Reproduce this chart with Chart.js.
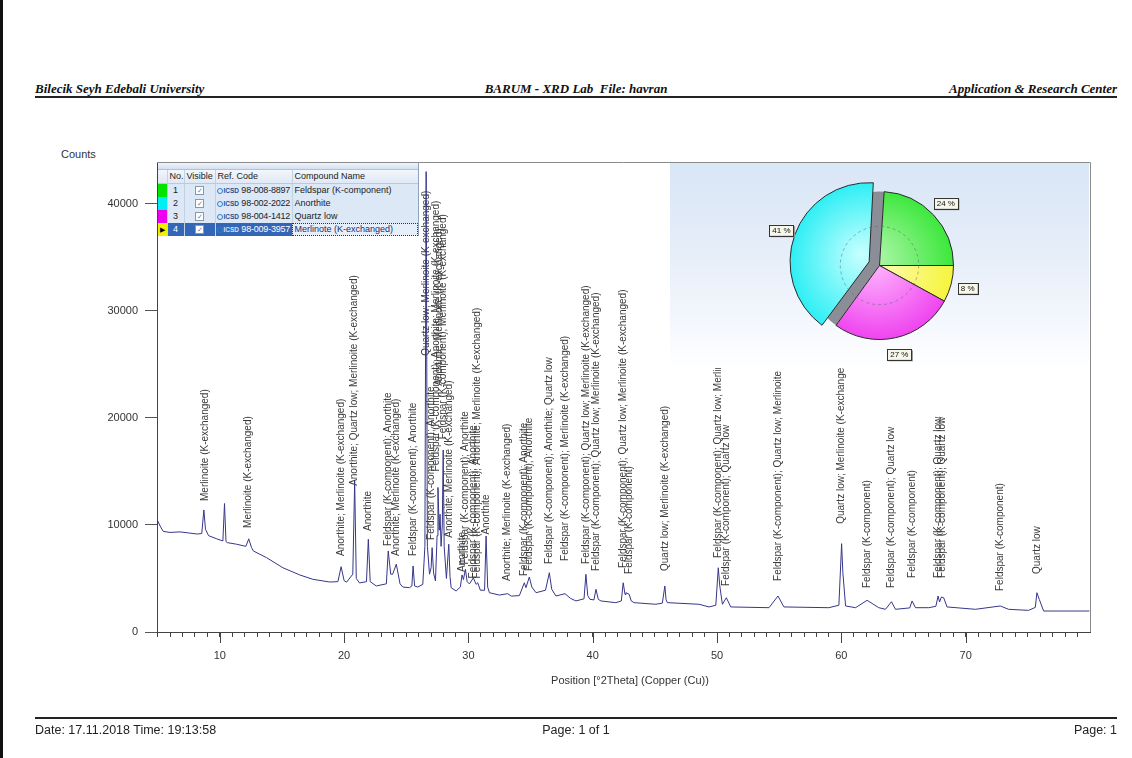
<!DOCTYPE html>
<html>
<head>
<meta charset="utf-8">
<script src="https://cdn.jsdelivr.net/npm/chart.js"></script>
<style>
  body { margin: 0; width: 1132px; height: 758px; position: relative; overflow: hidden; background: #fff;
         font-family: 'Liberation Sans', Arial, sans-serif; color: #333; }
  #edge { position: absolute; left: 0; top: 0; width: 3px; height: 758px; background: #111; }
  #hdr { position: absolute; left: 35px; top: 82px; width: 1082px; height: 14px; border-bottom: 2px solid #222;
         font: italic bold 13px 'Liberation Serif', 'Times New Roman', serif; line-height: 14px; color: #111; }
  #hdr .c { position: absolute; left: 0; width: 1082px; text-align: center; }
  #hdr .r { position: absolute; right: 0; }
  #counts { position: absolute; left: 61px; top: 148px; font-size: 11px; }
  #xtitle { position: absolute; left: 430px; width: 400px; top: 674px; text-align: center; font-size: 11px; }
  #ftr { position: absolute; left: 35px; top: 717px; width: 1082px; border-top: 2px solid #222;
         font-size: 12.5px; line-height: 14px; padding-top: 4px; color: #222; }
  #ftr .c { position: absolute; left: 0; width: 1082px; text-align: center; }
  #ftr .r { position: absolute; right: 0; }
  #xrd { position: absolute; left: 0; top: 0; }
  #tbl { position: absolute; left: 158px; top: 163px; width: 260px; background: #dde8f6;
         font-size: 9px; color: #222; border-right: 1px solid #8fa3bd; }
  #tbl .strip { height: 6px; background: linear-gradient(#f0f4fa, #d3e0f1); border-bottom: 1px solid #b0c2da; }
  #tbl table { border-collapse: collapse; width: 260px; table-layout: fixed; }
  #tbl td { height: 13px; padding: 0 2px; border-left: 1px solid #c3d1e4; white-space: nowrap; overflow: hidden;
            line-height: 13px; }
  #tbl td.rc { padding: 0 0 0 1px; letter-spacing: -0.2px; }
  #tbl tr.h td { background: linear-gradient(#f3f6fb, #dfe8f4); border-bottom: 1px solid #b9c9de; }
  #tbl td.sw { padding: 0; border-left: none; font-size: 7px; text-align: center; }
  #tbl td.n { text-align: center; }
  #tbl td.v { text-align: center; }
  #tbl .cb { display: inline-block; width: 7px; height: 7px; border: 1px solid #8797ad; background: #fff;
             font-size: 7px; line-height: 7px; color: #6d7f99; text-align: center; vertical-align: middle; }
  #tbl .ic { display: inline-block; width: 4px; height: 4px; border: 1px solid #2f7fd0; border-radius: 50%;
             vertical-align: middle; margin-right: 1px; }
  #tbl .icsd { font-size: 6.5px; font-weight: bold; color: #2a4f8f; letter-spacing: 0; }
  #tbl tr.sel td { background: #3466b8; color: #fff; }
  #tbl tr.sel td.sw { background: #f0f000; color: #000; }
  #tbl tr.sel td.nm { background: #e6eefa; color: #1c2c6c; outline: 1px dotted #333; outline-offset: -1px; }
  #tbl tr.sel .icsd { color: #cfe0ff; }
  #panel { position: absolute; left: 670px; top: 163px; width: 419px; height: 205px;
           background: linear-gradient(to bottom, #d9e6f6 0%, #e6eef9 45%, #f5f8fd 80%, #ffffff 100%); }
  #pie { position: absolute; left: 0; top: 0; }
</style>
</head>
<body>
<div id="edge"></div>
<div id="hdr">
  <span>Bilecik Seyh Edebali University</span>
  <span class="c">BARUM - XRD Lab&nbsp; File: havran</span>
  <span class="r">Application &amp; Research Center</span>
</div>
<div id="counts">Counts</div>
<canvas id="xrd" width="1132" height="758"></canvas>
<div id="tbl">
  <div class="strip"></div>
  <table>
    <colgroup><col style="width:9px"><col style="width:17px"><col style="width:31px"><col style="width:77px"><col style="width:126px"></colgroup>
    <tbody id="tbody"></tbody>
  </table>
</div>
<div id="panel"><canvas id="pie" width="419" height="205"></canvas></div>
<div id="xtitle">Position [°2Theta] (Copper (Cu))</div>
<div id="ftr">
  <span>Date: 17.11.2018 Time: 19:13:58</span>
  <span class="c">Page: 1 of 1</span>
  <span class="r">Page: 1</span>
</div>

<script>
// diffractogram
const twoTheta = [
  5.0, 5.2, 5.45, 6.0, 6.8, 7.5, 8.2, 8.55, 8.72, 8.85, 9.1, 9.76, 10.25, 10.38, 10.5, 10.6,
  11.34, 12.1, 12.33, 12.55, 12.7, 13.75, 15.08, 16.43, 17.49, 18.84, 19.5, 19.76, 20.0, 20.2,
  20.7, 20.85, 20.98, 21.24, 21.8, 21.95, 22.1, 22.59, 23.4, 23.55, 23.75, 23.9, 24.2, 24.5,
  24.72, 25.26, 25.45, 25.55, 25.67, 25.93, 26.33, 26.5, 26.6, 26.7, 26.87, 27.0, 27.08, 27.2,
  27.35, 27.48, 27.55, 27.65, 27.72, 27.8, 27.9, 27.97, 28.05, 28.23, 28.42, 28.52, 28.61,
  29.01, 29.35, 29.49, 29.6, 29.76, 29.9, 30.08, 30.4, 30.62, 30.75, 30.96, 31.3, 31.42, 31.55,
  31.69, 32.49, 33.16, 33.45, 34.1, 34.5, 34.63, 34.9, 35.1, 35.44, 36.2, 36.51, 36.7, 37.04,
  37.77, 38.2, 38.65, 39.3, 39.45, 39.6, 39.78, 40.1, 40.26, 40.45, 40.66, 41.86, 42.3, 42.45,
  42.6, 42.67, 42.93, 43.1, 43.33, 45.08, 45.6, 45.8, 45.9, 46.01, 48.55, 49.36, 49.9, 50.1,
  50.22, 50.43, 50.75, 51.1, 54.18, 54.9, 55.38, 58.99, 59.8, 60.02, 60.12, 60.34, 61.14,
  62.07, 63.01, 63.55, 64.03, 64.35, 65.5, 65.69, 65.96, 67.03, 67.6, 67.78, 67.9, 68.05,
  68.23, 68.5, 70.78, 72.79, 73.45, 75.06, 75.6, 75.73, 75.92, 76.27, 79.95
];
const counts = [
  10400, 9900, 9400, 9300, 9350, 9250, 9150, 9200, 11400, 9600, 9000, 8700, 8500, 12000, 8450, 8350,
  8200, 8000, 8700, 7900, 7570, 6950, 6000, 5330, 4920, 4670, 4700, 6100, 4800, 4650,
  5400, 14100, 5000, 4580, 4700, 8660, 4700, 4300, 4500, 7570, 5400, 5390, 6330, 4500,
  4200, 4140, 4300, 6170, 4300, 4200, 4450, 8000, 43000, 8000, 5400, 6000, 7880, 5500,
  4770, 9000, 13500, 9500, 11000, 8000, 10000, 17000, 8000, 5000, 8200, 5200, 4140,
  3830, 4200, 5330, 4900, 5860, 4700, 4490, 5050, 4450, 4600, 3900, 3900, 8970, 4200,
  3670, 3450, 3580, 3350, 3400, 4600, 4140, 5140, 4200, 3670, 3900, 5540, 4000, 3360,
  3580, 3150, 2900, 3100, 5390, 3400, 3050, 3000, 3990, 3050, 2900, 2740, 2900, 4600,
  3500, 3670, 3520, 2900, 2740, 2590, 2700, 4300, 3000, 2740, 2590, 2340, 2500, 6000,
  4300, 2590, 3200, 2340, 2270, 3360, 2340, 2270, 2500, 8250, 5540, 2430, 2270,
  2960, 2270, 2120, 2830, 2120, 2250, 2900, 2270, 2270, 2400, 3360, 2800, 3270,
  3200, 2340, 2120, 2430, 2120, 2020, 2300, 3670, 3050, 1960, 1960
];

// peak identifications: position, count where the text starts, text
const labelTheta = [8.8, 12.33, 19.76, 20.85, 21.95, 23.55, 24.2, 25.55, 26.6,
  27.05, 27.45, 27.65, 27.95, 28.42, 29.49, 29.76, 30.4, 30.75, 31.42,
  33.16, 34.5, 34.9, 36.51, 37.77, 39.45, 40.26, 42.45, 42.93, 45.8,
  50.1, 50.75, 54.9, 60.02, 62.07, 64.03, 65.69, 67.8, 68.1, 72.79, 75.73];
const labelBase = [12240, 9720, 7100, 13650, 9440, 8040, 7100, 7100, 25800,
  8600, 15000, 23000, 18000, 8800, 5600, 6300, 5000, 5000, 9100,
  4770, 5230, 5700, 6360, 6640, 6360, 5700, 5980, 5420, 5700,
  6920, 4300, 4770, 10100, 4110, 4110, 5050, 5050, 5050, 3830, 5420];
const labelText = [
  'Merlinoite (K-exchanged)',
  'Merlinoite (K-exchanged)',
  'Anorthite; Merlinoite (K-exchanged)',
  'Anorthite; Quartz low; Merlinoite (K-exchanged)',
  'Anorthite',
  'Feldspar (K-component); Anorthite',
  'Anorthite; Merlinoite (K-exchanged)',
  'Feldspar (K-component); Anorthite',
  'Quartz low; Merlinoite (K-exchanged)',
  'Feldspar (K-component); Anorthite',
  'Feldspar (K-component); Anorthite; Merlinoite (K-exchanged)',
  'Anorthite; Merlinoite (K-exchanged)',
  'Feldspar (K-component); Merlinoite (K-exchanged)',
  'Anorthite; Merlinoite (K-exchanged)',
  'Anorthite',
  'Feldspar (K-component); Anorthite',
  'Feldspar (K-component); Anorthite',
  'Feldspar (K-component); Anorthite; Merlinoite (K-exchanged)',
  'Anorthite',
  'Anorthite; Merlinoite (K-exchanged)',
  'Feldspar (K-component); Anorthite',
  'Feldspar (K-component); Anorthite',
  'Feldspar (K-component); Anorthite; Quartz low',
  'Feldspar (K-component); Merlinoite (K-exchanged)',
  'Feldspar (K-component); Quartz low; Merlinoite (K-exchanged)',
  'Feldspar (K-component); Quartz low; Merlinoite (K-exchanged)',
  'Feldspar (K-component); Quartz low; Merlinoite (K-exchanged)',
  'Feldspar (K-component)',
  'Quartz low; Merlinoite (K-exchanged)',
  'Feldspar (K-component); Quartz low; Merlinoite (K-exchanged)',
  'Feldspar (K-component); Quartz low',
  'Feldspar (K-component); Quartz low; Merlinoite (K-exchanged)',
  'Quartz low; Merlinoite (K-exchanged)',
  'Feldspar (K-component)',
  'Feldspar (K-component); Quartz low',
  'Feldspar (K-component)',
  'Feldspar (K-component); Quartz low',
  'Feldspar (K-component); Quartz low',
  'Feldspar (K-component)',
  'Quartz low'
];

// axis ticks
const yTicks = [0, 10000, 20000, 30000, 40000];
const xLabelled = [10, 20, 30, 40, 50, 60, 70];

// phase list
const phaseNo = ['1', '2', '3', '4'];
const refCodes = ['98-008-8897', '98-002-2022', '98-004-1412', '98-009-3957'];
const compounds = ['Feldspar (K-component)', 'Anorthite', 'Quartz low', 'Merlinote (K-exchanged)'];
const phaseColors = ['#00e400', '#00eef4', '#f000f0', '#f0f000'];

// semi-quantitative result (pie)
const pieNames = ['Feldspar (K-component)', 'Merlinoite (K-exchanged)', 'Quartz low', 'Anorthite'];
const piePercent = [24, 8, 27, 41];
const pieEdge = ['#30e630', '#f4f430', '#ee38ee', '#28eef4'];
const pieLight = ['#b4f7b0', '#fffcc0', '#ffc0ff', '#c8ffff'];

const FONT = "'Liberation Sans', Arial, sans-serif";
Chart.defaults.font.family = FONT;

// phase table
const tbody = document.getElementById('tbody');
tbody.innerHTML = '<tr class="h"><td class="sw"></td><td>No.</td><td>Visible</td><td>Ref. Code</td><td>Compound Name</td></tr>' +
  refCodes.map((rc, i) => {
    const sel = i === refCodes.length - 1;
    return `<tr${sel ? ' class="sel"' : ''}>` +
      `<td class="sw" style="background:${phaseColors[i]}">${sel ? '&#9654;' : ''}</td>` +
      `<td class="n">${phaseNo[i]}</td>` +
      `<td class="v"><span class="cb">&#10003;</span></td>` +
      `<td class="rc"><span class="ic"></span><span class="icsd">ICSD</span> ${rc}</td>` +
      `<td class="nm">${compounds[i]}</td></tr>`;
  }).join('');

// peak texts under the trace
const peakLabels = {
  id: 'peakLabels',
  beforeDatasetsDraw(chart) {
    const {ctx, chartArea: a, scales: {x, y}} = chart;
    ctx.save();
    ctx.beginPath();
    ctx.rect(a.left, a.top, a.right - a.left, a.bottom - a.top);
    ctx.clip();
    ctx.font = '10px ' + FONT;
    ctx.fillStyle = '#3a3a3a';
    ctx.textAlign = 'left';
    ctx.textBaseline = 'middle';
    labelTheta.forEach((t, i) => {
      ctx.save();
      ctx.translate(x.getPixelForValue(t), y.getPixelForValue(labelBase[i]));
      ctx.rotate(-Math.PI / 2);
      ctx.fillText(labelText[i], 0, 0);
      ctx.restore();
    });
    ctx.restore();
  }
};

// frame round the plot + longer major ticks
const frame = {
  id: 'frame',
  afterDraw(chart) {
    const {ctx, chartArea: a, scales: {x}} = chart;
    ctx.save();
    ctx.strokeStyle = '#8a8a8a';
    ctx.lineWidth = 1;
    ctx.beginPath();
    ctx.moveTo(a.left, a.top + 0.5);
    ctx.lineTo(a.right + 0.5, a.top + 0.5);
    ctx.lineTo(a.right + 0.5, a.bottom);
    ctx.stroke();
    ctx.strokeStyle = '#444';
    ctx.beginPath();
    xLabelled.forEach(v => {
      const px = Math.round(x.getPixelForValue(v)) + 0.5;
      ctx.moveTo(px, a.bottom);
      ctx.lineTo(px, a.bottom + 11);
    });
    ctx.stroke();
    ctx.restore();
  }
};

new Chart(document.getElementById('xrd'), {
  type: 'line',
  data: {
    datasets: [{
      data: twoTheta.map((t, i) => ({x: t, y: counts[i]})),
      borderColor: '#36368a',
      borderWidth: 1,
      pointRadius: 0,
      tension: 0,
      fill: false
    }]
  },
  options: {
    responsive: false,
    animation: false,
    layout: {padding: {left: 60, right: 42, top: 162, bottom: 86}},
    plugins: {legend: {display: false}, tooltip: {enabled: false}},
    scales: {
      x: {
        type: 'linear',
        min: 4.95,
        max: 80,
        afterFit(s) { s.height = 40; },
        afterBuildTicks(s) {
          const t = [];
          for (let v = 5; v < 80; v++) t.push({value: v});
          s.ticks = t;
        },
        ticks: {
          autoSkip: false, maxRotation: 0, padding: 12, color: '#333', font: {size: 11},
          callback: v => xLabelled.includes(v) ? String(v) : ''
        },
        grid: {drawOnChartArea: false, tickLength: 5, color: '#444'},
        border: {color: '#444'}
      },
      y: {
        min: 0,
        max: 43900,
        afterFit(s) { s.width = 97; },
        afterBuildTicks(s) { s.ticks = yTicks.map(v => ({value: v})); },
        ticks: {padding: 7, color: '#333', font: {size: 11}, callback: v => String(v)},
        grid: {drawOnChartArea: false, tickLength: 12, color: '#555'},
        border: {color: '#444'}
      }
    }
  },
  plugins: [peakLabels, frame]
});

// pie extras: grey depth behind the pulled slice, dashed ring, boxed percentages
const pieExtras = {
  id: 'pieExtras',
  beforeDatasetsDraw(chart) {
    const arc = chart.getDatasetMeta(0).data[3];
    const ctx = chart.ctx;
    ctx.save();
    ctx.fillStyle = '#8b8e97';
    ctx.beginPath();
    ctx.moveTo(arc.x, arc.y);
    ctx.arc(arc.x, arc.y, arc.outerRadius, arc.startAngle, arc.endAngle);
    ctx.closePath();
    ctx.fill();
    ctx.restore();
  },
  afterDatasetsDraw(chart) {
    const ctx = chart.ctx;
    const arcs = chart.getDatasetMeta(0).data;
    const cx = arcs[0].x, cy = arcs[0].y, r = arcs[0].outerRadius;
    ctx.save();
    ctx.setLineDash([3, 3]);
    ctx.strokeStyle = 'rgba(90,90,110,0.6)';
    ctx.lineWidth = 0.8;
    ctx.beginPath();
    ctx.arc(cx, cy, r * 0.53, 0, Math.PI * 2);
    ctx.stroke();
    ctx.setLineDash([]);
    ctx.font = '8px ' + FONT;
    ctx.textAlign = 'center';
    ctx.textBaseline = 'middle';
    arcs.forEach((a, i) => {
      const mid = (a.startAngle + a.endAngle) / 2;
      const off = (a.options.offset || 0) / 4;
      const rr = r + 17 + off * 1.2;
      const lx = cx + Math.cos(mid) * rr, ly = cy + Math.sin(mid) * rr;
      const txt = piePercent[i] + ' %';
      const w = ctx.measureText(txt).width + 6, h = 11;
      ctx.fillStyle = '#9a9a9a';
      ctx.fillRect(lx - w / 2 + 1.5, ly - h / 2 + 1.5, w, h);
      ctx.fillStyle = '#f6f6ea';
      ctx.fillRect(lx - w / 2, ly - h / 2, w, h);
      ctx.strokeStyle = '#333';
      ctx.lineWidth = 1;
      ctx.strokeRect(Math.round(lx - w / 2) + 0.5, Math.round(ly - h / 2) + 0.5, Math.round(w), h);
      ctx.fillStyle = '#111';
      ctx.fillText(txt, lx, ly + 0.5);
    });
    ctx.restore();
  }
};

new Chart(document.getElementById('pie'), {
  type: 'pie',
  data: {
    labels: pieNames,
    datasets: [{
      data: piePercent,
      backgroundColor: c => {
        const a = c.chart.chartArea;
        if (!a) return pieEdge[c.dataIndex];
        const cx = (a.left + a.right) / 2, cy = (a.top + a.bottom) / 2;
        const g = c.chart.ctx.createRadialGradient(cx - 8, cy - 8, 0, cx, cy, 82);
        g.addColorStop(0, pieLight[c.dataIndex]);
        g.addColorStop(1, pieEdge[c.dataIndex]);
        return g;
      },
      borderColor: '#2a2a2a',
      borderWidth: 1,
      offset: [0, 0, 0, 44],
      hoverOffset: 0
    }]
  },
  options: {
    responsive: false,
    animation: false,
    radius: 74,
    rotation: 3.6,
    layout: {padding: 0},
    plugins: {legend: {display: false}, tooltip: {enabled: false}}
  },
  plugins: [pieExtras]
});
</script>
</body>
</html>
